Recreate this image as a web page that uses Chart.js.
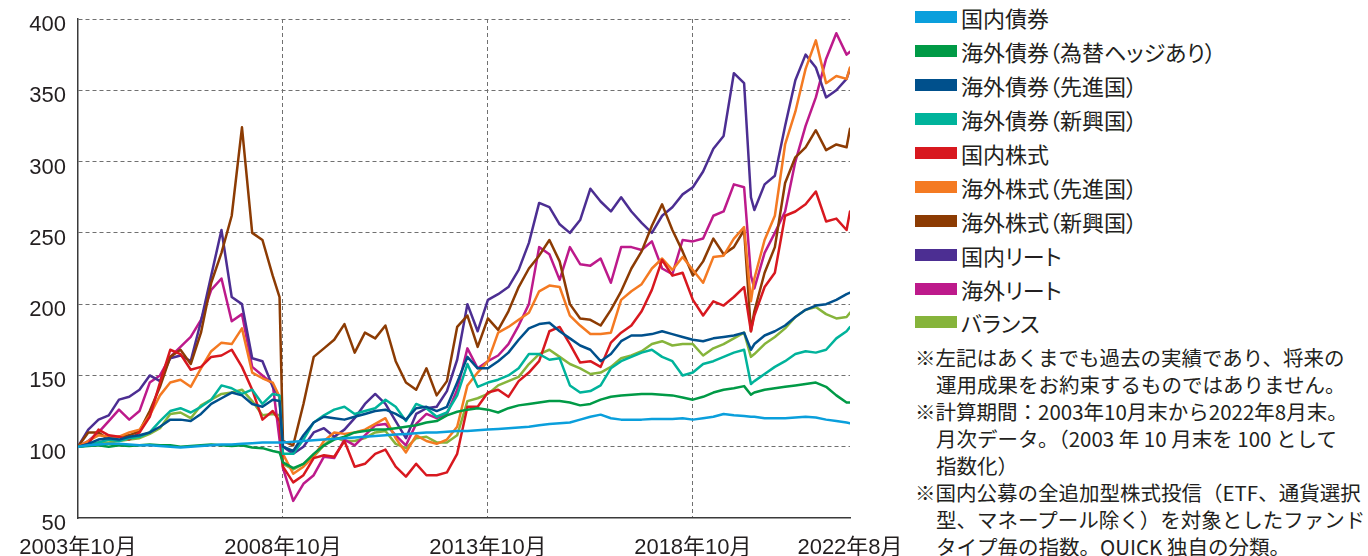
<!DOCTYPE html>
<html lang="ja">
<head>
<meta charset="utf-8">
<script src="https://cdn.jsdelivr.net/npm/chart.js@4.4.1/dist/chart.umd.min.js"></script>
<style>
html,body{margin:0;padding:0;background:#fff;}
body{width:1368px;height:556px;position:relative;overflow:hidden;font-family:"Noto Sans CJK JP",sans-serif;color:#231f20;}
#wrap{position:absolute;left:0;top:0;width:910px;height:556px;}
.item{position:absolute;left:915px;height:34px;display:flex;align-items:center;white-space:nowrap;font-size:22px;font-feature-settings:"palt";}
.sw{width:42px;height:12px;margin-right:4px;flex:none;}
.note{position:absolute;white-space:nowrap;font-size:20.5px;line-height:27px;height:27px;}
</style>
</head>
<body>
<div id="wrap"><canvas id="c"></canvas></div>
<div id="legend"></div>
<div id="notes"></div>
<script>
// months since 2003-10 (month-end index)
const months = [0,3,6,9,12,15,18,21,24,27,30,33,36,39,42,45,48,51,54,57,59,60,63,66,69,72,75,78,81,84,87,90,93,96,99,102,105,108,111,114,117,120,123,126,129,132,135,138,141,144,147,150,153,156,159,162,165,168,171,174,177,180,183,186,189,192,195,197,198,201,204,207,210,213,216,219,222,225,226];

const tickMonths = [0, 60, 120, 180, 226];
const tickLabels = ['2003年10月', '2008年10月', '2013年10月', '2018年10月', '2022年8月'];

const seriesNames = ['国内債券','海外債券（為替ヘッジあり）','海外債券（先進国）','海外債券（新興国）','国内株式','海外株式（先進国）','海外株式（新興国）','国内リート','海外リート','バランス'];
const seriesColors = ['#0a9fdc','#009a46','#00508c','#00b39b','#d8181f','#f47a22','#8c3b03','#4c2e92','#bd1a8b','#86b43b'];

const domesticBond = [100,101,101.5,102,102,101.5,101,101,100.5,100,99.5,100,100.5,101,101.5,101.5,102,102.5,103,103,
 103,
 103,103.5,104,104.5,105,105.5,106,106.5,107,107.5,108,108.5,109,109.5,110,110,110.5,111,111,111.5,112,112.5,113,113.5,114,115,116,116.5,117,119,121,122.5,120,119,119,119,119.5,119.5,119.5,120,119,120,121,123,122,121.5,
 121,
 121,120,120,120,120.5,121,120.5,119,118,117,116.5];

const hedgedBond = [100,100.5,101,100,101,100.5,101,101.5,101,101,100,100.5,101,101.5,101,100.5,101,99.5,99,97,
 96,
 89,85,88,95,101,105,107,110,111,112,112,113,114,115,117,118,122,124.5,126,127,126,124,127,129,130,131,132,132,131,129,130,133,135,136,136.5,137,137,136.5,136,134.5,133,135,138,140,141,142.5,
 136.5,
 138,140,141,142,143,144,145,142,136,131,131];

const devBond = [100,102,105,106,105,107,108,110,114,119,119,118,123,130,134,138,136,130,128,133,
 132,
 100,97,108,117,121,120,119,121,123,125,126,123,119,127,128,125,128,145,163,155,155,160,166,175,183,186,187,181,176,171,168,160,165,174,178,178,179,181,179,177,175,174,176,177,178,180,
 168,
 172,178,181,185,191,196,199,200,203,207,208];

const emBond = [100,101,103,105,104,106,107,110,118,125,127,124,128,133,143,141,137,140,130,137,
 136,
 95,95,105,117,122,126,128,123,125,127,133,128,118,130,127,121,124,136,158,142,145,147,150,155,165,165,161,162,143,138,139,143,155,160,163,166,168,163,160,150,152,158,160,163,166,168,
 144,
 146,151,156,160,165,167,166,168,176,181,184];

const domesticEq = [100,102,112,108,107,105,110,121,145,168,165,154,156,163,164,168,156,140,119,125,
 118,
 86,75,80,92,94,93,104,86,88,95,98,86,79,88,80,80,82,95,128,128,138,140,135,146,152,160,181,184,172,159,160,156,173,180,185,195,210,231,220,222,203,192,202,199,205,212,
 181,
 192,212,222,262,265,270,279,258,260,252,265];

const devEq = [100,104,108,107,107,110,112,122,136,145,147,142,155,167,173,172,183,152,148,145,
 135,
 95,81,86,93,104,110,109,110,112,116,120,106,96,108,104,102,105,114,143,152,160,180,184,189,194,209,213,212,192,185,179,179,180,203,209,214,225,232,224,233,224,215,233,234,246,254,
 202,
 218,245,262,312,335,365,385,355,360,358,366];

const emEq = [100,110,110,105,107,108,111,125,142,163,168,158,180,215,236,262,324,250,245,220,
 205,
 104,101,130,163,169,175,186,166,180,176,185,160,145,140,155,136,146,184,192,170,190,182,195,212,225,234,245,230,200,190,189,185,196,209,225,237,255,270,252,237,220,230,246,235,240,252,
 181,
 195,222,240,285,303,310,322,308,312,310,323];

const jReit = [100,112,119,122,133,135,140,150,146,162,164,160,188,220,252,205,200,162,160,142,
 135,
 100,95,100,110,113,107,112,120,130,137,130,118,106,123,127,128,139,161,200,181,203,207,212,224,243,271,268,256,250,259,281,272,265,275,265,257,250,262,268,277,282,293,309,318,362,355,
 275,
 266,284,290,325,357,375,366,345,350,358,365];

const gReit = [100,104,110,118,126,119,125,145,150,163,170,177,189,210,218,188,193,156,150,144,
 105,
 85,62,74,80,93,92,105,101,108,115,116,108,101,116,123,120,123,140,169,155,160,164,172,185,200,240,235,217,240,228,227,232,215,240,240,238,244,225,221,245,244,246,262,265,284,282,
 220,
 211,236,250,265,300,325,345,372,390,375,377];

const balance = [100,101,103,103,104,105,106,109,113,123,124,120,129,133,137,138,140,132,122,123,
 122,
 88,84,88,93,101,107,104,104,106,110,111,102,99,106,107,103,103,108,132,134,137,143,146,149,158,165,168,163,158,155,151,152,156,162,164,167,172,174,171,172,172,164,169,172,176,180,
 163,
 165,172,177,183,191,196,198,193,190,191,194];

const seriesValues = [domesticBond, hedgedBond, devBond, emBond, domesticEq, devEq, emEq, jReit, gReit, balance];

const notes = [
  ['※左記はあくまでも過去の実績であり、将来の', 915],
  ['運用成果をお約束するものではありません。', 936],
  ['※計算期間：2003年10月末から2022年8月末。', 915],
  ['月次データ。（2003 年 10 月末を 100 として', 936],
  ['指数化）', 936],
  ['※国内公募の全追加型株式投信（ETF、通貨選択', 915],
  ['型、マネープール除く）を対象としたファンド', 936],
  ['タイプ毎の指数。QUICK 独自の分類。', 936]
];

// legend
const legendEl = document.getElementById('legend');
seriesNames.forEach((name, i) => {
  const it = document.createElement('div');
  it.className = 'item';
  it.style.top = (17.3 + 33.9 * i - 17) + 'px';
  const sw = document.createElement('span');
  sw.className = 'sw';
  sw.style.background = seriesColors[i];
  const tx = document.createElement('span');
  tx.textContent = name;
  it.appendChild(sw); it.appendChild(tx);
  legendEl.appendChild(it);
});
// notes
const notesEl = document.getElementById('notes');
notes.forEach((n, k) => {
  const d = document.createElement('div');
  d.className = 'note';
  d.textContent = n[0];
  d.style.left = n[1] + 'px';
  d.style.top = (357.5 + 27.05 * k - 13.5) + 'px';
  notesEl.appendChild(d);
});

const datasets = seriesNames.map((name, i) => ({
  label: name,
  data: months.map((m, j) => ({x: m, y: seriesValues[i][j]})),
  borderColor: seriesColors[i],
  backgroundColor: seriesColors[i],
  borderWidth: 2.5,
  pointRadius: 0,
  tension: 0,
  fill: false,
  borderJoinStyle: 'round',
  borderCapStyle: 'round'
}));

const tickFont = {family: '"Liberation Sans", "Noto Sans CJK JP", sans-serif', size: 22};
const gridCol = '#707070';

new Chart(document.getElementById('c'), {
  type: 'line',
  data: {datasets},
  options: {
    responsive: true,
    maintainAspectRatio: false,
    animation: false,
    events: [],
    layout: {padding: {left: 0, right: 60, top: 19, bottom: 0}},
    plugins: {legend: {display: false}, tooltip: {enabled: false}},
    scales: {
      x: {
        type: 'linear', min: 0, max: 226,
        afterBuildTicks: s => { s.ticks = tickMonths.map(v => ({value: v})); },
        afterFit: s => { s.height = 38; s.paddingLeft = 0; s.paddingRight = 0; },
        ticks: {
          autoSkip: false, maxRotation: 0, minRotation: 0, padding: 17,
          font: tickFont, color: '#231f20',
          callback: v => { const k = tickMonths.indexOf(v); return k >= 0 ? tickLabels[k] : ''; }
        },
        grid: {
          drawTicks: false, lineWidth: 1,
          color: c => (c.tick && (c.tick.value === 0 || c.tick.value === 226)) ? 'rgba(0,0,0,0)' : gridCol
        },
        border: {display: true, color: '#3a3a3a', width: 1.5, dash: [4, 3]}
      },
      y: {
        min: 50, max: 400,
        afterFit: s => { s.width = 78; s.paddingTop = 0; s.paddingBottom = 0; },
        ticks: {stepSize: 50, padding: 12, labelOffset: 6, font: tickFont, color: '#231f20'},
        grid: {
          drawTicks: false, lineWidth: 1,
          color: c => (c.tick && c.tick.value === 50) ? 'rgba(0,0,0,0)' : gridCol
        },
        border: {display: true, color: '#3a3a3a', width: 1.5, dash: [4, 3]}
      }
    }
  }
});
</script>
</body>
</html>
